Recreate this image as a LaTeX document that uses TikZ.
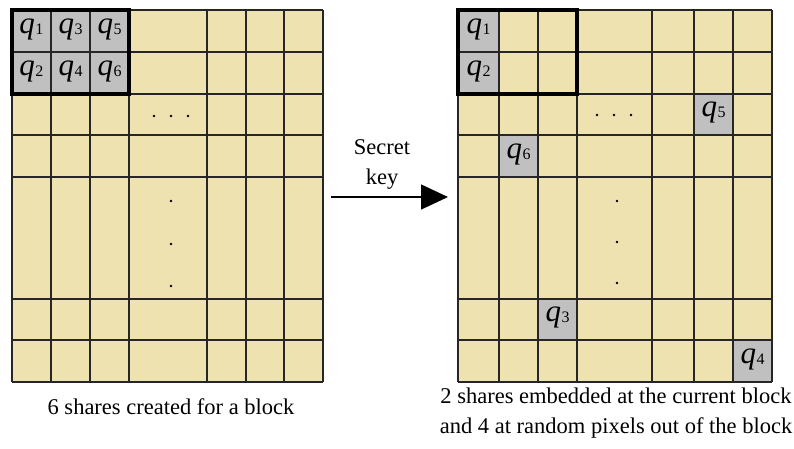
\documentclass[tikz,border=0pt]{standalone}
\usepackage{fontspec}
\setmainfont{Liberation Serif}
\usetikzlibrary{arrows.meta}
\definecolor{cellfill}{RGB}{238,226,176}
\definecolor{sharefill}{RGB}{192,192,192}
\newcommand\shr[1]{{\fontsize{31}{31}\selectfont\itshape q}\hspace{0.5pt}\raisebox{-1pt}{\fontsize{16}{16}\selectfont #1}}
\tikzset{
  gridline/.style={line width=1.2pt, black!85},
  blockline/.style={line width=4pt, black, line join=miter},
  sharecell/.style={fill=sharefill},
  sharelabel/.style={inner sep=0pt, anchor=center},
  caption/.style={font=\fontsize{22.5}{30}\selectfont, align=center, inner sep=0pt},
  dotmark/.style={fill=black, circle, inner sep=0pt, minimum size=2.8pt},
}
\begin{document}
\begin{tikzpicture}[x=1pt,y=-1pt]
\useasboundingbox (0,0) rectangle (794,448);
\fill[white] (0,0) rectangle (794,448);

% ---------- left grid: six shares of one block ----------
\fill[cellfill] (12,10) rectangle (323,382);
\fill[sharecell] (12,10) rectangle (129,94);
\foreach \x in {12,51,90,129,207,246,284,323} \draw[gridline] (\x,10) -- (\x,382);
\foreach \y in {10,52,94,135,177,299,340,382} \draw[gridline] (12,\y) -- (323,\y);
\draw[blockline] (12,10) rectangle (129,94);
\node[sharelabel] (L1) at (31.5,29) {\shr{1}};
\node[sharelabel] (L2) at (31.5,71) {\shr{2}};
\node[sharelabel] (L3) at (70.5,29) {\shr{3}};
\node[sharelabel] (L4) at (70.5,71) {\shr{4}};
\node[sharelabel] (L5) at (109.5,29) {\shr{5}};
\node[sharelabel] (L6) at (109.5,71) {\shr{6}};
\foreach \x in {154,171,188} \node[dotmark] at (\x,116) {};
\foreach \y in {201,244,286} \node[dotmark] at (171,\y) {};
\node[caption] (capL) at (171,407) {6 shares created for a block};

% ---------- right grid: shares after embedding ----------
\fill[cellfill] (458,10) rectangle (772,382);
\fill[sharecell] (458,10) rectangle (499,94);
\fill[sharecell] (694,94) rectangle (733,135);
\fill[sharecell] (499,135) rectangle (538,177);
\fill[sharecell] (538,299) rectangle (577,340);
\fill[sharecell] (733,340) rectangle (772,382);
\foreach \x in {458,499,538,577,652,694,733,772} \draw[gridline] (\x,10) -- (\x,382);
\foreach \y in {10,52,94,135,177,299,340,382} \draw[gridline] (458,\y) -- (772,\y);
\draw[blockline] (458,10) rectangle (577,94);
\node[sharelabel] (R1) at (478.5,29) {\shr{1}};
\node[sharelabel] (R2) at (478.5,71) {\shr{2}};
\node[sharelabel] (R5) at (713.5,112.5) {\shr{5}};
\node[sharelabel] (R6) at (518.5,154) {\shr{6}};
\node[sharelabel] (R3) at (557.5,317.5) {\shr{3}};
\node[sharelabel] (R4) at (752.5,359) {\shr{4}};
\foreach \x in {597,614,631} \node[dotmark] at (\x,115) {};
\foreach \y in {201,242,283} \node[dotmark] at (617,\y) {};
\node[caption] (capR) at (616,413) {2 shares embedded at the current block\\and 4 at random pixels out of the block};

% ---------- secret-key arrow ----------
\coordinate (keyS) at (331,197);
\coordinate (keyE) at (448,197);
\draw[line width=1.3pt, -{Triangle[length=27pt,width=25pt]}] (keyS) -- (keyE);
\node[caption] (key) at (382,164) {Secret\\key};
\end{tikzpicture}
\end{document}
